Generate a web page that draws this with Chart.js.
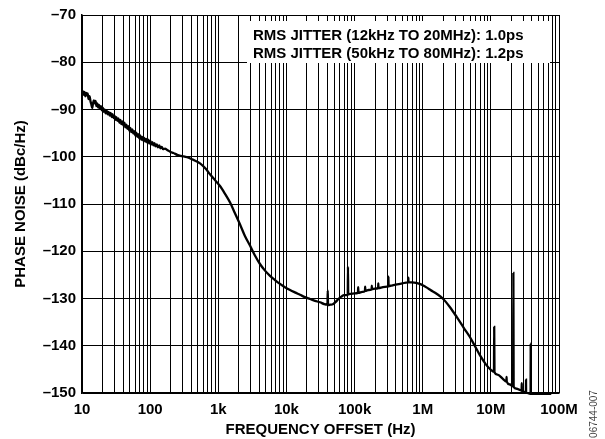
<!DOCTYPE html>
<html>
<head>
<meta charset="utf-8">
<script src="https://cdn.jsdelivr.net/npm/chart.js@4.4.0/dist/chart.umd.min.js"></script>
<style>
  html, body { margin: 0; padding: 0; background: #fff; }
  #wrap { width: 605px; height: 439px; }
</style>
</head>
<body>
<div id="wrap"><canvas id="noiseChart" width="605" height="439"></canvas></div>
<script>
// offset frequency (Hz) and measured phase noise (dBc/Hz), spurs included
const freqHz = [
  10, 10.3, 10.6, 10.9, 11.2, 11.5, 11.8, 12.1, 12.5, 12.9,
  13.3, 13.7, 14.1, 14.5, 14.9, 15.3, 15.8, 16.3, 16.8, 17.3,
  17.8, 18.4, 19, 19.6, 20.2, 20.8, 21.5, 22.2, 23, 23.8,
  24.6, 25.4, 26.3, 27.2, 28.1, 29, 30, 31, 32, 33,
  34.2, 35.4, 36.6, 37.9, 39.2, 40.5, 41.9, 43.3, 44.8, 46.3,
  47.9, 49.5, 51.2, 53, 54.8, 56.7, 58.6, 60.6, 62.7, 64.8,
  67, 69.3, 71.7, 74.1, 76.7, 79.3, 82, 84.8, 87.7, 90.7,
  93.8, 97, 100.3, 104, 108, 112, 116, 120, 125, 130,
  136, 142, 148, 155, 165, 180, 200, 220, 250, 280,
  310, 350, 420, 540, 650, 755, 900,
  1060, 1250, 1490, 1750, 2080, 2450, 2920, 3450, 4090, 4850, 5740, 6800, 8050, 9500,
  11300, 13300, 15800, 18700, 22200, 26300, 31100, 36000, 40000, 40400, 40800,
  44000, 48000, 53000, 58000, 64000, 70000, 76000, 79500, 80000, 80700, 90000,
  100000, 112000, 113000, 114000, 130000, 142000, 143000, 144000, 160000, 178000,
  179000, 180000, 200000, 222000, 223000, 224000, 260000, 300000, 313000, 314000,
  315500, 360000, 420000, 500000, 600000, 614000, 616000, 618000, 700000, 800000, 900000,
  1000000, 1150000, 1300000, 1600000, 2000000, 2500000, 3150000, 4000000, 4900000,
  5800000, 6900000, 8500000, 10000000, 11100000, 11200000, 11300000, 12500000,
  15000000, 16900000, 17000000, 17100000, 19000000, 21200000, 21400000, 21600000,
  24000000, 26000000, 28300000, 28400000, 28500000, 32700000, 32800000, 32900000,
  36000000, 38300000, 38400000, 38500000, 45000000, 55000000, 65000000, 77000000
];
const phaseNoise = [
  -86.6, -86.1, -86.9, -86.3, -87.2, -86.5, -87.0, -86.6, -87.8, -87.2,
  -88.2, -88.9, -89.7, -88.7, -88.1, -88.7, -88.2, -89.3, -88.7, -89.6,
  -89.0, -89.9, -89.3, -90.2, -89.6, -90.5, -90.0, -90.8, -90.2, -91.0,
  -90.5, -91.3, -90.7, -91.6, -91.0, -91.8, -91.3, -92.2, -91.6, -92.4,
  -91.9, -92.8, -92.2, -93.1, -92.5, -93.4, -92.8, -93.8, -93.2, -94.1,
  -93.5, -94.5, -93.9, -94.8, -94.2, -95.1, -94.6, -95.5, -94.9, -95.8,
  -95.2, -96.1, -95.5, -96.4, -95.8, -96.6, -96.0, -96.8, -96.2, -97.0,
  -96.4, -97.2, -96.6, -97.4, -96.9, -97.6, -97.1, -97.8, -97.4, -98.0,
  -97.6, -98.2, -97.9, -98.4, -98.3, -98.6, -99.0, -99.2, -99.6, -99.8,
  -99.9, -100.1, -100.6, -101.4, -102.5, -103.7, -105.0,
  -106.2, -107.8, -109.7, -111.9, -114.3, -116.7, -118.8, -120.9, -122.7, -124.1, -125.2, -126.1, -126.9, -127.6,
  -128.2, -128.7, -129.2, -129.7, -130.1, -130.5, -130.8, -131.2, -131.3, -128.3, -131.4,
  -131.3, -131.2, -130.7, -130.1, -129.6, -129.3, -129.3, -129.2, -123.3, -129.1, -129.0,
  -128.9, -128.8, -127.6, -128.8, -128.6, -128.4, -127.5, -128.4, -128.2, -128.1,
  -127.3, -128.0, -127.9, -127.8, -126.8, -127.8, -127.6, -127.5, -127.4, -125.4,
  -127.4, -127.2, -127.0, -126.8, -126.6, -126.6, -125.6, -126.6, -126.6, -126.7, -126.9,
  -127.2, -127.7, -128.2, -129.0, -130.1, -131.8, -133.9, -136.2, -138.1,
  -140.0, -142.0, -144.0, -145.1, -145.5, -136.0, -145.6, -146.1,
  -147.0, -147.6, -146.6, -147.6, -148.2, -148.6, -124.6, -148.7,
  -149.1, -149.3, -149.5, -147.9, -149.6, -149.8, -147.2, -149.9,
  -150.1, -150.2, -139.5, -150.2, -150.2, -150.2, -150.2, -150.2
];

// log grid: every 1..9 step inside each decade, plus the last decade line
const decadesHz = [10, 100, 1000, 10000, 100000, 1000000, 10000000];
const gridSteps = [1, 2, 3, 4, 5, 6, 7, 8, 9];
const xGridHz = decadesHz.flatMap(d => gridSteps.map(s => d * s)).concat([100000000]);
const xTickLabels = {
  10: '10', 100: '100', 1000: '1k', 10000: '10k', 100000: '100k',
  1000000: '1M', 10000000: '10M', 100000000: '100M'
};
const yTicks = [-150, -140, -130, -120, -110, -100, -90, -80, -70];

const jitterNotes = [
  'RMS JITTER (12kHz TO 20MHz): 1.0ps',
  'RMS JITTER (50kHz TO 80MHz): 1.2ps'
];
const figureId = '06744-007';

const FAMILY = 'Arial, "Liberation Sans", Helvetica, sans-serif';
const boldFont = { family: FAMILY, size: 15, weight: 'bold' };

const notePlugin = {
  id: 'notes',
  beforeDatasetsDraw(chart) {
    const ctx = chart.ctx;
    ctx.save();
    ctx.fillStyle = '#fff';
    ctx.fillRect(247, 21, 303, 42);
    ctx.fillStyle = '#000';
    ctx.font = `bold 15px ${FAMILY}`;
    ctx.textAlign = 'left';
    ctx.textBaseline = 'alphabetic';
    ctx.fillText(jitterNotes[0], 253, 40);
    ctx.fillText(jitterNotes[1], 253, 58);
    ctx.restore();
  },
  afterDraw(chart) {
    const ctx = chart.ctx;
    ctx.save();
    ctx.translate(594, 414);
    ctx.rotate(-Math.PI / 2);
    ctx.font = `10px ${FAMILY}`;
    ctx.fillStyle = '#444';
    ctx.textAlign = 'center';
    ctx.textBaseline = 'middle';
    ctx.fillText(figureId, 0, 0);
    ctx.restore();
  }
};

const ctx = document.getElementById('noiseChart').getContext('2d');
new Chart(ctx, {
  type: 'line',
  data: {
    datasets: [{
      data: freqHz.map((f, i) => ({ x: f, y: phaseNoise[i] })),
      borderColor: '#000',
      borderWidth: 2.3,
      pointRadius: 0,
      fill: false,
      clip: 4,
      cubicInterpolationMode: 'monotone'
    }]
  },
  options: {
    responsive: false,
    animation: false,
    layout: { padding: { top: 13, right: 46, bottom: 0, left: 0 } },
    plugins: { legend: { display: false }, tooltip: { enabled: false } },
    scales: {
      x: {
        type: 'logarithmic',
        min: 10,
        max: 100000000,
        afterBuildTicks: s => { s.ticks = xGridHz.map(v => ({ value: v })); },
        afterFit: s => { s.height = 46; },
        grid: { color: '#000', lineWidth: 1, drawTicks: false },
        border: { display: true, color: '#000', width: 1.5 },
        ticks: {
          autoSkip: false, maxRotation: 0, minRotation: 0, padding: 8,
          color: '#000', font: boldFont,
          callback: v => xTickLabels[v] || ''
        },
        title: { display: true, text: 'FREQUENCY OFFSET (Hz)', color: '#000', font: boldFont, padding: 0 }
      },
      y: {
        min: -150,
        max: -70,
        afterBuildTicks: s => { s.ticks = yTicks.map(v => ({ value: v })); },
        afterFit: s => { s.width = 82; },
        grid: { color: '#000', lineWidth: 1, drawTicks: false },
        border: { display: true, color: '#000', width: 1.5 },
        ticks: {
          padding: 6, color: '#000', font: boldFont,
          callback: v => '\u2013' + Math.abs(v)
        },
        title: { display: true, text: 'PHASE NOISE (dBc/Hz)', color: '#000', font: boldFont, padding: { top: 12, bottom: 0 } }
      }
    }
  },
  plugins: [notePlugin]
});
</script>
</body>
</html>
